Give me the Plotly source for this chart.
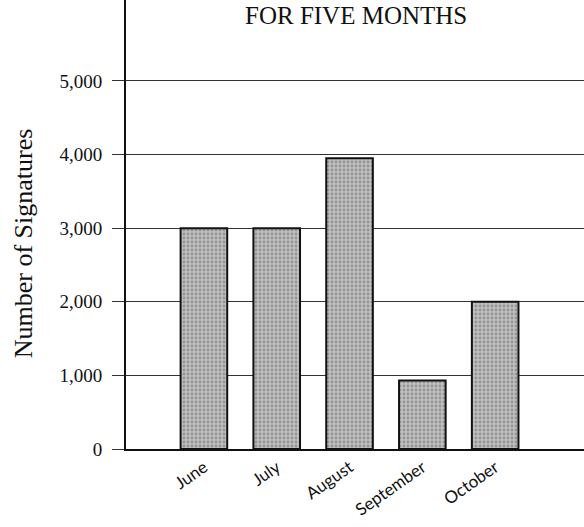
import plotly.graph_objects as go

months = ["June", "July", "August", "September", "October"]
signatures = [3000, 3000, 3950, 930, 2000]
y_ticks = [0, 1000, 2000, 3000, 4000, 5000]
y_tick_labels = ["0", "1,000", "2,000", "3,000", "4,000", "5,000"]

fig = go.Figure()
fig.add_trace(go.Bar(
    x=months, y=signatures, width=0.64,
    marker=dict(color="#aaaaaa", line=dict(color="#111", width=2),
                pattern=dict(shape=".", fgcolor="#666666", bgcolor="#c0c0c0", size=4, solidity=0.4)),
))

fig.update_layout(
    width=584, height=527,
    margin=dict(l=126, r=0, t=0, b=78),
    plot_bgcolor="white", paper_bgcolor="white",
    showlegend=False,
    xaxis=dict(range=[-1.07, 5.22], showgrid=False, showline=True, linecolor="#111", linewidth=2,
               ticks="", tickangle=-35, tickfont=dict(family="Lato", size=17, color="#111"),
               zeroline=False),
    yaxis=dict(range=[0, 6100], tickvals=y_ticks, ticktext=y_tick_labels,
               showgrid=True, gridcolor="#333", gridwidth=1,
               showline=True, linecolor="#111", linewidth=2,
               ticks="outside", ticklen=12, tickcolor="#333", tickwidth=1,
               ticklabelstandoff=6,
               tickfont=dict(family="Liberation Serif", size=19, color="#111"),
               zeroline=False),
    annotations=[
        dict(text="Number of Signatures", textangle=-90, xref="paper", yref="paper",
             x=-0.222, y=0.459, xanchor="center", yanchor="middle", showarrow=False,
             font=dict(family="Liberation Serif", size=26, color="#111")),
        dict(text="FOR FIVE MONTHS", xref="paper", yref="paper", x=0.502, y=1,
             xanchor="center", yanchor="top", yshift=0, showarrow=False,
             font=dict(family="Liberation Serif", size=25, color="#111")),
    ],
)

fig.write_html("out.html", config={"displayModeBar": False},
               post_script="document.body.style.margin='0';")
